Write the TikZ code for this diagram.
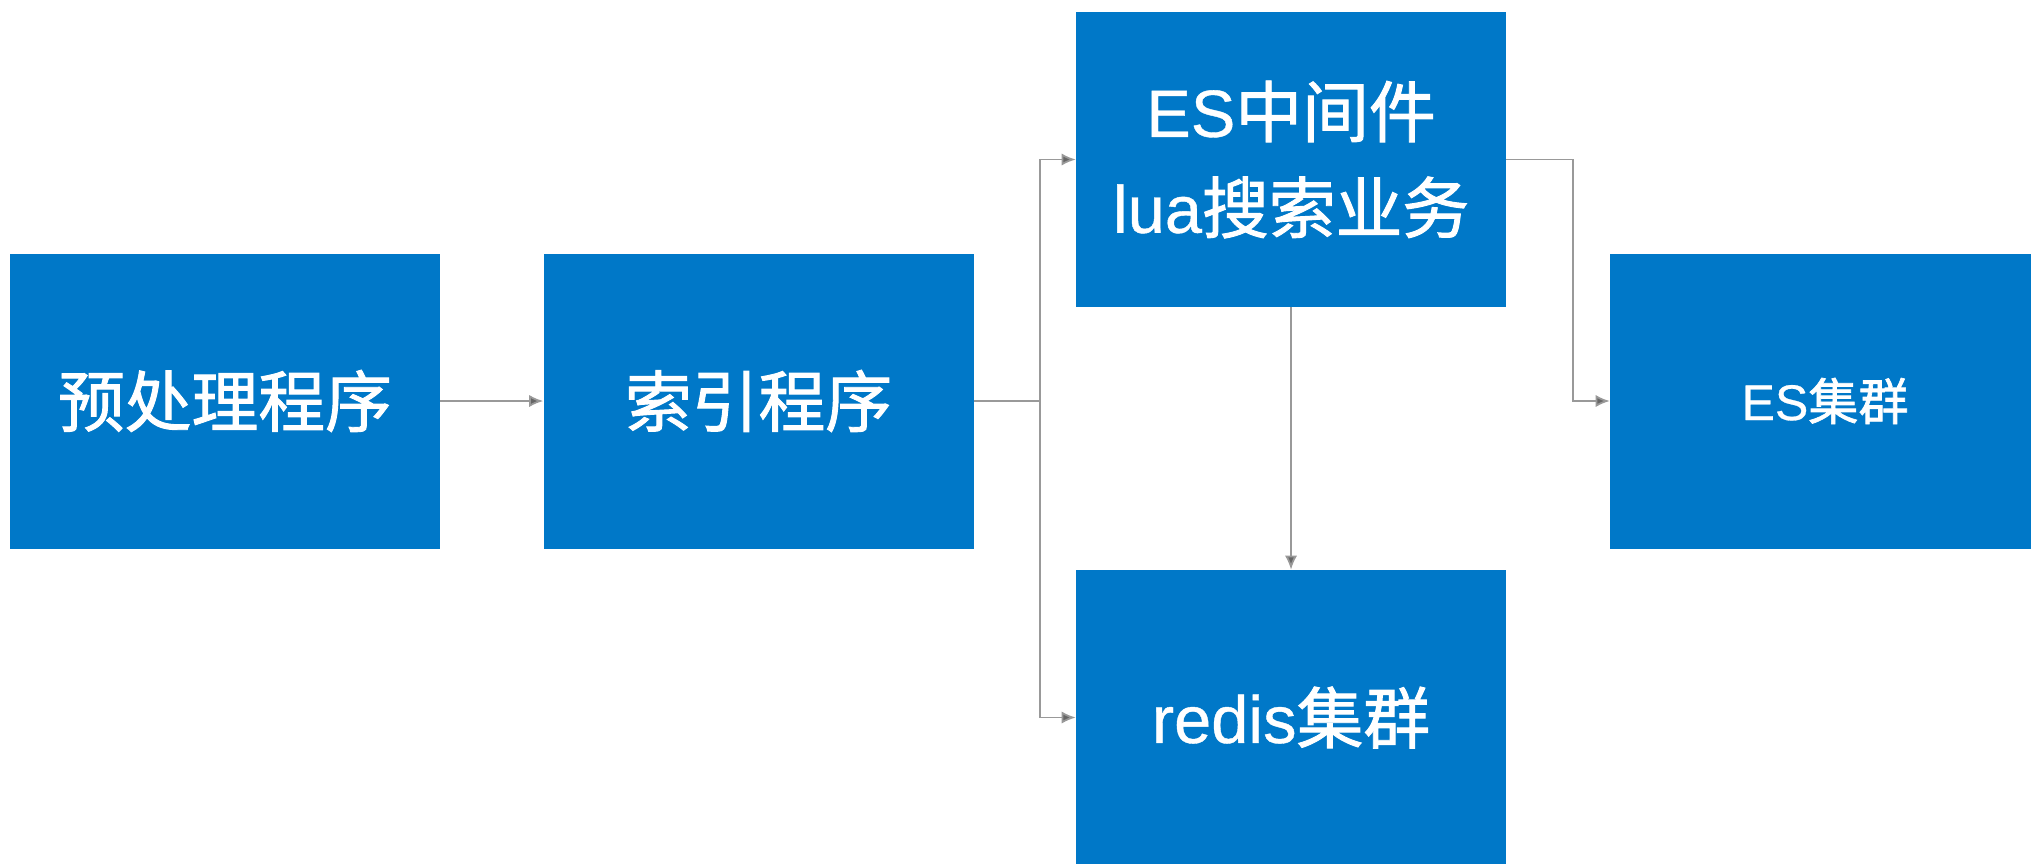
\documentclass[tikz,border=0pt]{standalone}
\usepackage{fontspec}
\setmainfont{Liberation Sans}[FakeBold=0.6,AutoFakeBold=0.6]
\newfontfamily\cjk{Noto Sans CJK SC}[FakeBold=1.4]
\usepackage{tikz}
\usetikzlibrary{calc,arrows.meta}

\begin{document}
\begin{tikzpicture}[
    box/.style={fill={rgb,255:red,0;green,120;blue,200}, text=white, inner sep=0pt,
      minimum width=8.6cm, minimum height=5.9cm, align=center,
      font=\fontsize{38}{54.6}\selectfont},
    conn/.style={draw=black!40, line width=1pt, -{Latex[length=8pt,width=7pt,fill=black!60]}}
  ]
    \useasboundingbox (0,0) rectangle (40.62,-17.26);% page of the reference

    \node [box] (pre) at (4.5,-8.02) {\cjk 预处理程序};
    \node [box] (idx) at (15.17,-8.02) {\cjk 索引程序};
    \node [box] (mid) at (25.82,-3.19) {ES{\cjk 中间件}\\lua{\cjk 搜索业务}};
    \node [box] (redis) at (25.82,-14.35) {redis{\cjk 集群}};
    \node [box, font=\fontsize{28.5}{34}\selectfont] (escl) at (36.5,-8.02) {ES{\cjk 集群}};

    \coordinate (split) at (20.8,-8.02);% fork after the index box

    \draw [conn] (pre) -- (idx);
    \draw [conn, -] (idx) -- (split);
    \draw [conn] (split) |- (mid.west);
    \draw [conn] (split) |- (redis.west);
    \draw [conn] (mid) -- (redis);
    \draw [conn] (mid.east) -- ++(1.34,0) |- (escl.west);
\end{tikzpicture}
\end{document}
